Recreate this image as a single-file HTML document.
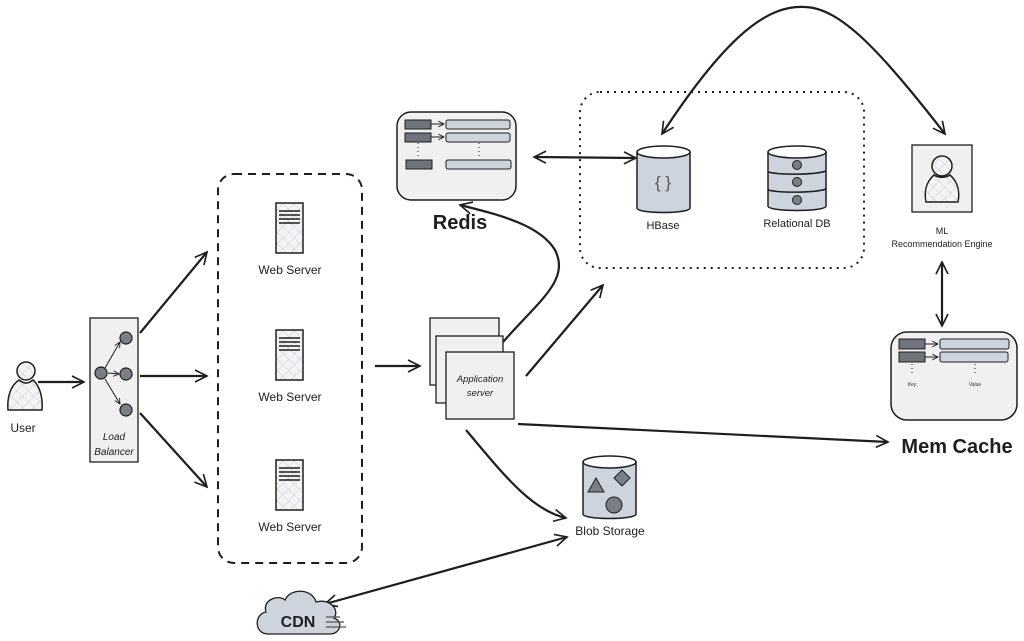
<!DOCTYPE html>
<html><head><meta charset="utf-8"><style>
html,body{margin:0;padding:0;background:#fff;}
svg{display:block;font-family:"Liberation Sans",sans-serif;}
</style></head><body>
<svg width="1024" height="641" viewBox="0 0 1024 641" xmlns="http://www.w3.org/2000/svg">
<defs>
<pattern id="h" width="8" height="8" patternUnits="userSpaceOnUse" patternTransform="rotate(45)">
<rect width="8" height="8" fill="#f4f4f6"/>
<line x1="0" y1="0" x2="0" y2="8" stroke="#c9ccd4" stroke-width="1"/>
<line x1="0" y1="0" x2="8" y2="0" stroke="#c9ccd4" stroke-width="1"/>
</pattern>
<marker id="a" viewBox="0 0 20 20" refX="18" refY="10" markerWidth="15" markerHeight="15" markerUnits="userSpaceOnUse" orient="auto-start-reverse">
<path d="M2,2 L18,10 L2,18" fill="none" stroke="#1e1e1e" stroke-width="2.2"/>
</marker>
<marker id="s" viewBox="0 0 20 20" refX="18" refY="10" markerWidth="7" markerHeight="7" markerUnits="userSpaceOnUse" orient="auto">
<path d="M2,2 L18,10 L2,18" fill="none" stroke="#1e1e1e" stroke-width="2.5"/>
</marker>
</defs>
<g fill="none" stroke="#1e1e1e" stroke-width="2">
<rect x="218" y="174" width="144" height="389" rx="16" stroke-dasharray="8 6"/>
<rect x="580" y="92" width="284" height="176" rx="20" stroke-dasharray="2 5"/>
</g>
<g fill="none" stroke="#1e1e1e" stroke-width="2.2">
<line x1="38" y1="382" x2="84" y2="382" marker-end="url(#a)"/>
<line x1="140" y1="333" x2="207" y2="252" marker-end="url(#a)"/>
<line x1="140" y1="376" x2="207" y2="376" marker-end="url(#a)"/>
<line x1="140" y1="413" x2="207" y2="487" marker-end="url(#a)"/>
<line x1="375" y1="366" x2="420" y2="366" marker-end="url(#a)"/>
<path d="M503,342 C540,300 570,280 555,250 C540,225 500,215 460,205" marker-end="url(#a)"/>
<line x1="534" y1="157" x2="636" y2="158" marker-start="url(#a)" marker-end="url(#a)"/>
<path d="M662,134 C730,30 770,5 805,7 C840,8 880,50 945,134" marker-start="url(#a)" marker-end="url(#a)"/>
<line x1="942" y1="262" x2="942" y2="326" marker-start="url(#a)" marker-end="url(#a)"/>
<line x1="526" y1="376" x2="603" y2="285" marker-end="url(#a)"/>
<line x1="518" y1="424" x2="888" y2="442" marker-end="url(#a)"/>
<path d="M466,430 C500,470 530,510 566,518" marker-end="url(#a)"/>
<line x1="325" y1="604" x2="567" y2="537" marker-start="url(#a)" marker-end="url(#a)"/>
</g>
<!-- user -->
<g stroke="#1e1e1e" stroke-width="1.5" fill="url(#h)">
<path d="M19,380 C10,386 7,398 8,410 L42,410 C43,398 40,386 33,380 C28,384 24,384 19,380 Z"/>
<circle cx="26" cy="371" r="9"/>
</g>
<text x="23" y="432" font-size="12" text-anchor="middle" fill="#1e1e1e">User</text>
<!-- load balancer -->
<rect x="90" y="318" width="48" height="144" fill="#f0f0f0" stroke="#1e1e1e" stroke-width="1.3"/>
<g stroke="#1e1e1e" stroke-width="1" fill="none">
<line x1="105" y1="368" x2="120" y2="342" marker-end="url(#s)"/>
<line x1="108" y1="373" x2="119" y2="374" marker-end="url(#s)"/>
<line x1="105" y1="379" x2="120" y2="404" marker-end="url(#s)"/>
</g>
<g fill="#7a7f87" stroke="#1e1e1e" stroke-width="1.2">
<circle cx="126" cy="338" r="6"/><circle cx="101" cy="373" r="6"/><circle cx="126" cy="374" r="6"/><circle cx="126" cy="410" r="6"/>
</g>
<text x="114" y="440" font-size="10" text-anchor="middle" fill="#1e1e1e" font-style="italic">Load</text>
<text x="114" y="455" font-size="10" text-anchor="middle" fill="#1e1e1e" font-style="italic">Balancer</text>
<!-- web servers -->
<g id="ws">
<rect x="276" y="203" width="27" height="50" fill="url(#h)" stroke="#1e1e1e" stroke-width="1.5"/>
<g stroke="#1e1e1e" stroke-width="1.5"><line x1="279" y1="211" x2="300" y2="211"/><line x1="279" y1="215" x2="300" y2="215"/><line x1="279" y1="219" x2="300" y2="219"/><line x1="279" y1="223" x2="300" y2="223"/></g>
</g>
<use href="#ws" y="127"/>
<use href="#ws" y="257"/>
<g font-size="12" text-anchor="middle" fill="#1e1e1e">
<text x="290" y="274">Web Server</text>
<text x="290" y="401">Web Server</text>
<text x="290" y="531">Web Server</text>
</g>
<!-- app servers -->
<g fill="#f0f0f0" stroke="#1e1e1e" stroke-width="1.3">
<rect x="430" y="318" width="69" height="67"/>
<rect x="436" y="336" width="67" height="67"/>
<rect x="446" y="352" width="68" height="67"/>
</g>
<text x="480" y="382" font-size="9.5" text-anchor="middle" fill="#1e1e1e" font-style="italic">Application</text>
<text x="480" y="396" font-size="9.5" text-anchor="middle" fill="#1e1e1e" font-style="italic">server</text>
<!-- redis -->
<rect x="397" y="112" width="119" height="88" rx="14" fill="#f0f0f0" stroke="#1e1e1e" stroke-width="1.5"/>
<g stroke="#1e1e1e" stroke-width="1">
<rect x="405" y="120" width="26" height="9" fill="#6f747c"/><rect x="446" y="120" width="64" height="9" rx="2" fill="#ced4de"/>
<rect x="405" y="133" width="26" height="9" fill="#6f747c"/><rect x="446" y="133" width="64" height="9" rx="2" fill="#ced4de"/>
<rect x="406" y="160" width="26" height="9" fill="#6f747c"/><rect x="446" y="160" width="65" height="9" rx="2" fill="#ced4de"/>
<line x1="431" y1="124" x2="444" y2="124" marker-end="url(#s)"/><line x1="431" y1="137" x2="444" y2="137" marker-end="url(#s)"/>
<line x1="418" y1="143" x2="418" y2="158" stroke-dasharray="1 3"/><line x1="479" y1="143" x2="479" y2="158" stroke-dasharray="1 3"/>
</g>
<text x="460" y="229" font-size="20" font-weight="bold" text-anchor="middle" fill="#1e1e1e">Redis</text>
<!-- hbase -->
<path d="M637,152 L637,208 C637,214 690,214 690,208 L690,152" fill="#ced4de" stroke="#1e1e1e" stroke-width="1.5"/>
<ellipse cx="663.5" cy="152" rx="26.5" ry="6" fill="#fff" stroke="#1e1e1e" stroke-width="1.5"/>
<text x="663" y="188" font-size="17" text-anchor="middle" fill="#555">{ }</text>
<text x="663" y="229" font-size="11" text-anchor="middle" fill="#1e1e1e">HBase</text>
<!-- relational -->
<g stroke="#1e1e1e" stroke-width="1.5">
<path d="M768,152 L768,206 C768,212 826,212 826,206 L826,152" fill="#ced4de"/>
<ellipse cx="797" cy="152" rx="29" ry="6" fill="#fff"/>
<path d="M768,172 C780,175 815,175 826,171 M768,190 C780,193 815,193 826,189" fill="none"/>
<g fill="#7a7f87" stroke-width="1"><circle cx="797" cy="165" r="4.5"/><circle cx="797" cy="182" r="4.5"/><circle cx="797" cy="200" r="4.5"/></g>
</g>
<text x="797" y="227" font-size="11" text-anchor="middle" fill="#1e1e1e">Relational DB</text>
<!-- ML -->
<rect x="912" y="145" width="60" height="67" fill="#f0f0f0" stroke="#1e1e1e" stroke-width="1.3"/>
<g stroke="#1e1e1e" stroke-width="1.5" fill="url(#h)">
<path d="M934,175 C926,182 924,192 926,202 L958,202 C960,192 958,182 950,175 C946,178 938,178 934,175 Z"/>
<circle cx="942" cy="166" r="10"/>
</g>
<text x="942" y="234" font-size="9" text-anchor="middle" fill="#1e1e1e">ML</text>
<text x="942" y="247" font-size="9" text-anchor="middle" fill="#1e1e1e">Recommendation Engine</text>
<!-- mem cache -->
<rect x="891" y="332" width="126" height="88" rx="16" fill="#f0f0f0" stroke="#1e1e1e" stroke-width="1.5"/>
<g stroke="#1e1e1e" stroke-width="1">
<rect x="899" y="339" width="26" height="10" fill="#6f747c"/><rect x="940" y="339" width="69" height="10" rx="2" fill="#ced4de"/>
<rect x="899" y="352" width="26" height="10" fill="#6f747c"/><rect x="940" y="352" width="68" height="10" rx="2" fill="#ced4de"/>
<line x1="925" y1="344" x2="938" y2="344" marker-end="url(#s)"/><line x1="925" y1="357" x2="938" y2="357" marker-end="url(#s)"/>
<line x1="912" y1="364" x2="912" y2="376" stroke-dasharray="1 3"/><line x1="975" y1="364" x2="975" y2="376" stroke-dasharray="1 3"/>
</g>
<text x="912" y="386" font-size="5" text-anchor="middle" fill="#333">Key</text>
<text x="975" y="386" font-size="5" text-anchor="middle" fill="#333">Value</text>
<text x="957" y="453" font-size="20" font-weight="bold" text-anchor="middle" fill="#1e1e1e">Mem Cache</text>
<!-- blob -->
<path d="M583,462 L583,514 C583,520 636,520 636,514 L636,462" fill="#ced4de" stroke="#1e1e1e" stroke-width="1.5"/>
<ellipse cx="609.5" cy="462" rx="26.5" ry="6" fill="#fff" stroke="#1e1e1e" stroke-width="1.5"/>
<g fill="#7a7f87" stroke="#1e1e1e" stroke-width="1">
<polygon points="596,478 588,492 604,492"/><polygon points="622,470 630,478 622,486 614,478"/><circle cx="614" cy="505" r="8"/>
</g>
<text x="610" y="535" font-size="12" text-anchor="middle" fill="#1e1e1e">Blob Storage</text>
<!-- CDN -->
<path d="M268,634 C254,634 254,614 266,612 C262,600 278,594 285,600 C290,588 312,588 316,602 C330,598 340,610 334,618 C344,622 340,634 330,634 Z" fill="#ced4de" stroke="#1e1e1e" stroke-width="1.3"/>
<text x="298" y="627" font-size="16" font-weight="bold" text-anchor="middle" fill="#1e1e1e">CDN</text>
<g stroke="#555" stroke-width="1.3"><line x1="326" y1="617" x2="340" y2="617"/><line x1="326" y1="622" x2="344" y2="622"/><line x1="326" y1="627" x2="346" y2="627"/></g>
</svg>
</body></html>
